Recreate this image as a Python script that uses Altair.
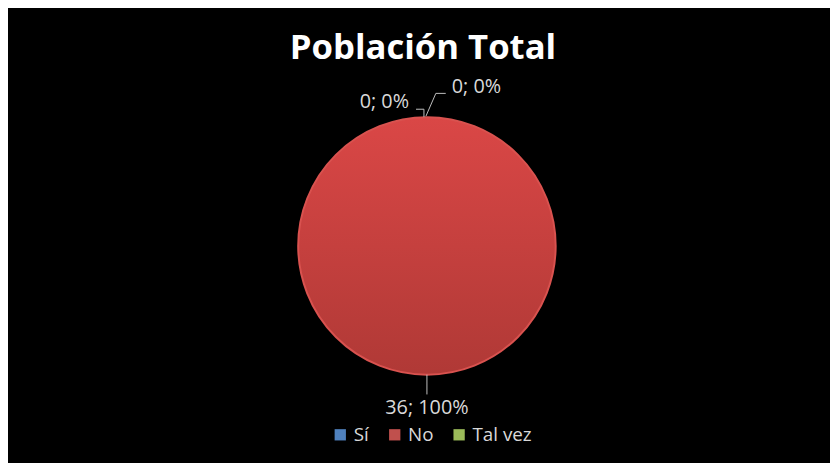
import altair as alt
import pandas as pd
import numpy as np

# ---- data ----
categories = ["Sí", "No", "Tal vez"]
values = [0, 36, 0]
colors = ["#4f81bd", "#c0504d", "#9bbb59"]
title_text = "Población Total"

# ---- layout (pixels) ----
R = 130                  # pie radius
W, H = 830, 385          # view size
PAD_TOP = 70
CX, CY = 423, 168        # pie centre inside the view
FONT = "Open Sans"

xs = alt.Scale(domain=[-CX / R, (W - CX) / R], nice=False, zero=False)
ys = alt.Scale(domain=[-(H - CY) / R, CY / R], nice=False, zero=False)

total = sum(values)
cum = np.cumsum([0] + values)
mid = [(cum[i] + values[i] / 2) / total * 2 * np.pi for i in range(len(values))]
pcts = [round(v / total * 100) for v in values]
label_text = [f"{v}; {p}%" for v, p in zip(values, pcts)]

pie_df = pd.DataFrame({"cat": categories, "value": values, "order": range(len(values)),
                       "cx": 0.0, "cy": 0.0})

# leader line elbows & label offsets (px, y up) relative to each slice's edge point
leader_offsets = {
    "Sí": [(-3, 0), (-3, 8), (-11, 8)],
    "No": [(0, 0), (0, -20)],
    "Tal vez": [(-1, 1), (9, 24), (19, 24)],
}
label_offsets = {"Sí": (-43, 15), "No": (0, -34), "Tal vez": (50, 30)}

line_rows, lab_rows = [], []
for c, a, t in zip(categories, mid, label_text):
    ex, ey = np.sin(a), np.cos(a)
    for k, (dx, dy) in enumerate(leader_offsets[c]):
        line_rows.append({"cat": c, "k": k, "x": ex + dx / R, "y": ey + dy / R})
    lx, ly = label_offsets[c]
    lab_rows.append({"cat": c, "x": ex + lx / R, "y": ey + ly / R, "text": t})
line_df = pd.DataFrame(line_rows)
lab_df = pd.DataFrame(lab_rows)

theta = alt.Theta("value:Q", stack=True)
order = alt.Order("order:Q")
X = alt.X("cx:Q", scale=xs, axis=None)
Y = alt.Y("cy:Q", scale=ys, axis=None)

base_arc = alt.Chart(pie_df).mark_arc(radius=R, strokeWidth=0).encode(
    theta=theta, order=order, x=X, y=Y,
    color=alt.Color("cat:N", sort=categories,
                    scale=alt.Scale(domain=categories, range=colors),
                    legend=alt.Legend(title=None, orient="none", direction="horizontal",
                                      legendX=326, legendY=349, symbolType="square",
                                      symbolSize=130, symbolStrokeWidth=0,
                                      labelFontSize=19, labelFont=FONT,
                                      labelColor="#d9d9d9", columnPadding=16,
                                      labelOffset=4)),
)

grad_arc = alt.Chart(pie_df).mark_arc(
    radius=R,
    fill=alt.Gradient(gradient="linear", x1=0, y1=0, x2=0, y2=1,
                      stops=[alt.GradientStop(offset=0, color="#da4746"),
                             alt.GradientStop(offset=1, color="#b03936")]),
    stroke="#d9524f", strokeWidth=2,
).encode(theta=theta, order=order, x=X, y=Y).transform_filter("datum.value > 0")

lines = alt.Chart(line_df).mark_line(color="#bfbfbf", strokeWidth=1).encode(
    x=alt.X("x:Q", scale=xs, axis=None),
    y=alt.Y("y:Q", scale=ys, axis=None),
    detail="cat:N", order="k:Q",
)

labels = alt.Chart(lab_df).mark_text(font=FONT, fontSize=20, color="#d9d9d9",
                                     align="center", baseline="middle").encode(
    x=alt.X("x:Q", scale=xs, axis=None),
    y=alt.Y("y:Q", scale=ys, axis=None),
    text="text:N",
)

chart = alt.layer(base_arc, grad_arc, lines, labels).properties(
    width=W, height=H,
    padding={"top": PAD_TOP, "left": 0, "right": 0, "bottom": 0},
    autosize=alt.AutoSizeParams(type="none"),
    background="black",
    title=alt.TitleParams(title_text, font=FONT, fontSize=35, fontWeight="bold",
                          color="white", anchor="middle", offset=12, dx=4),
).configure_view(strokeWidth=0)

chart.save("out.html", embed_options={"renderer": "svg", "actions": False})
